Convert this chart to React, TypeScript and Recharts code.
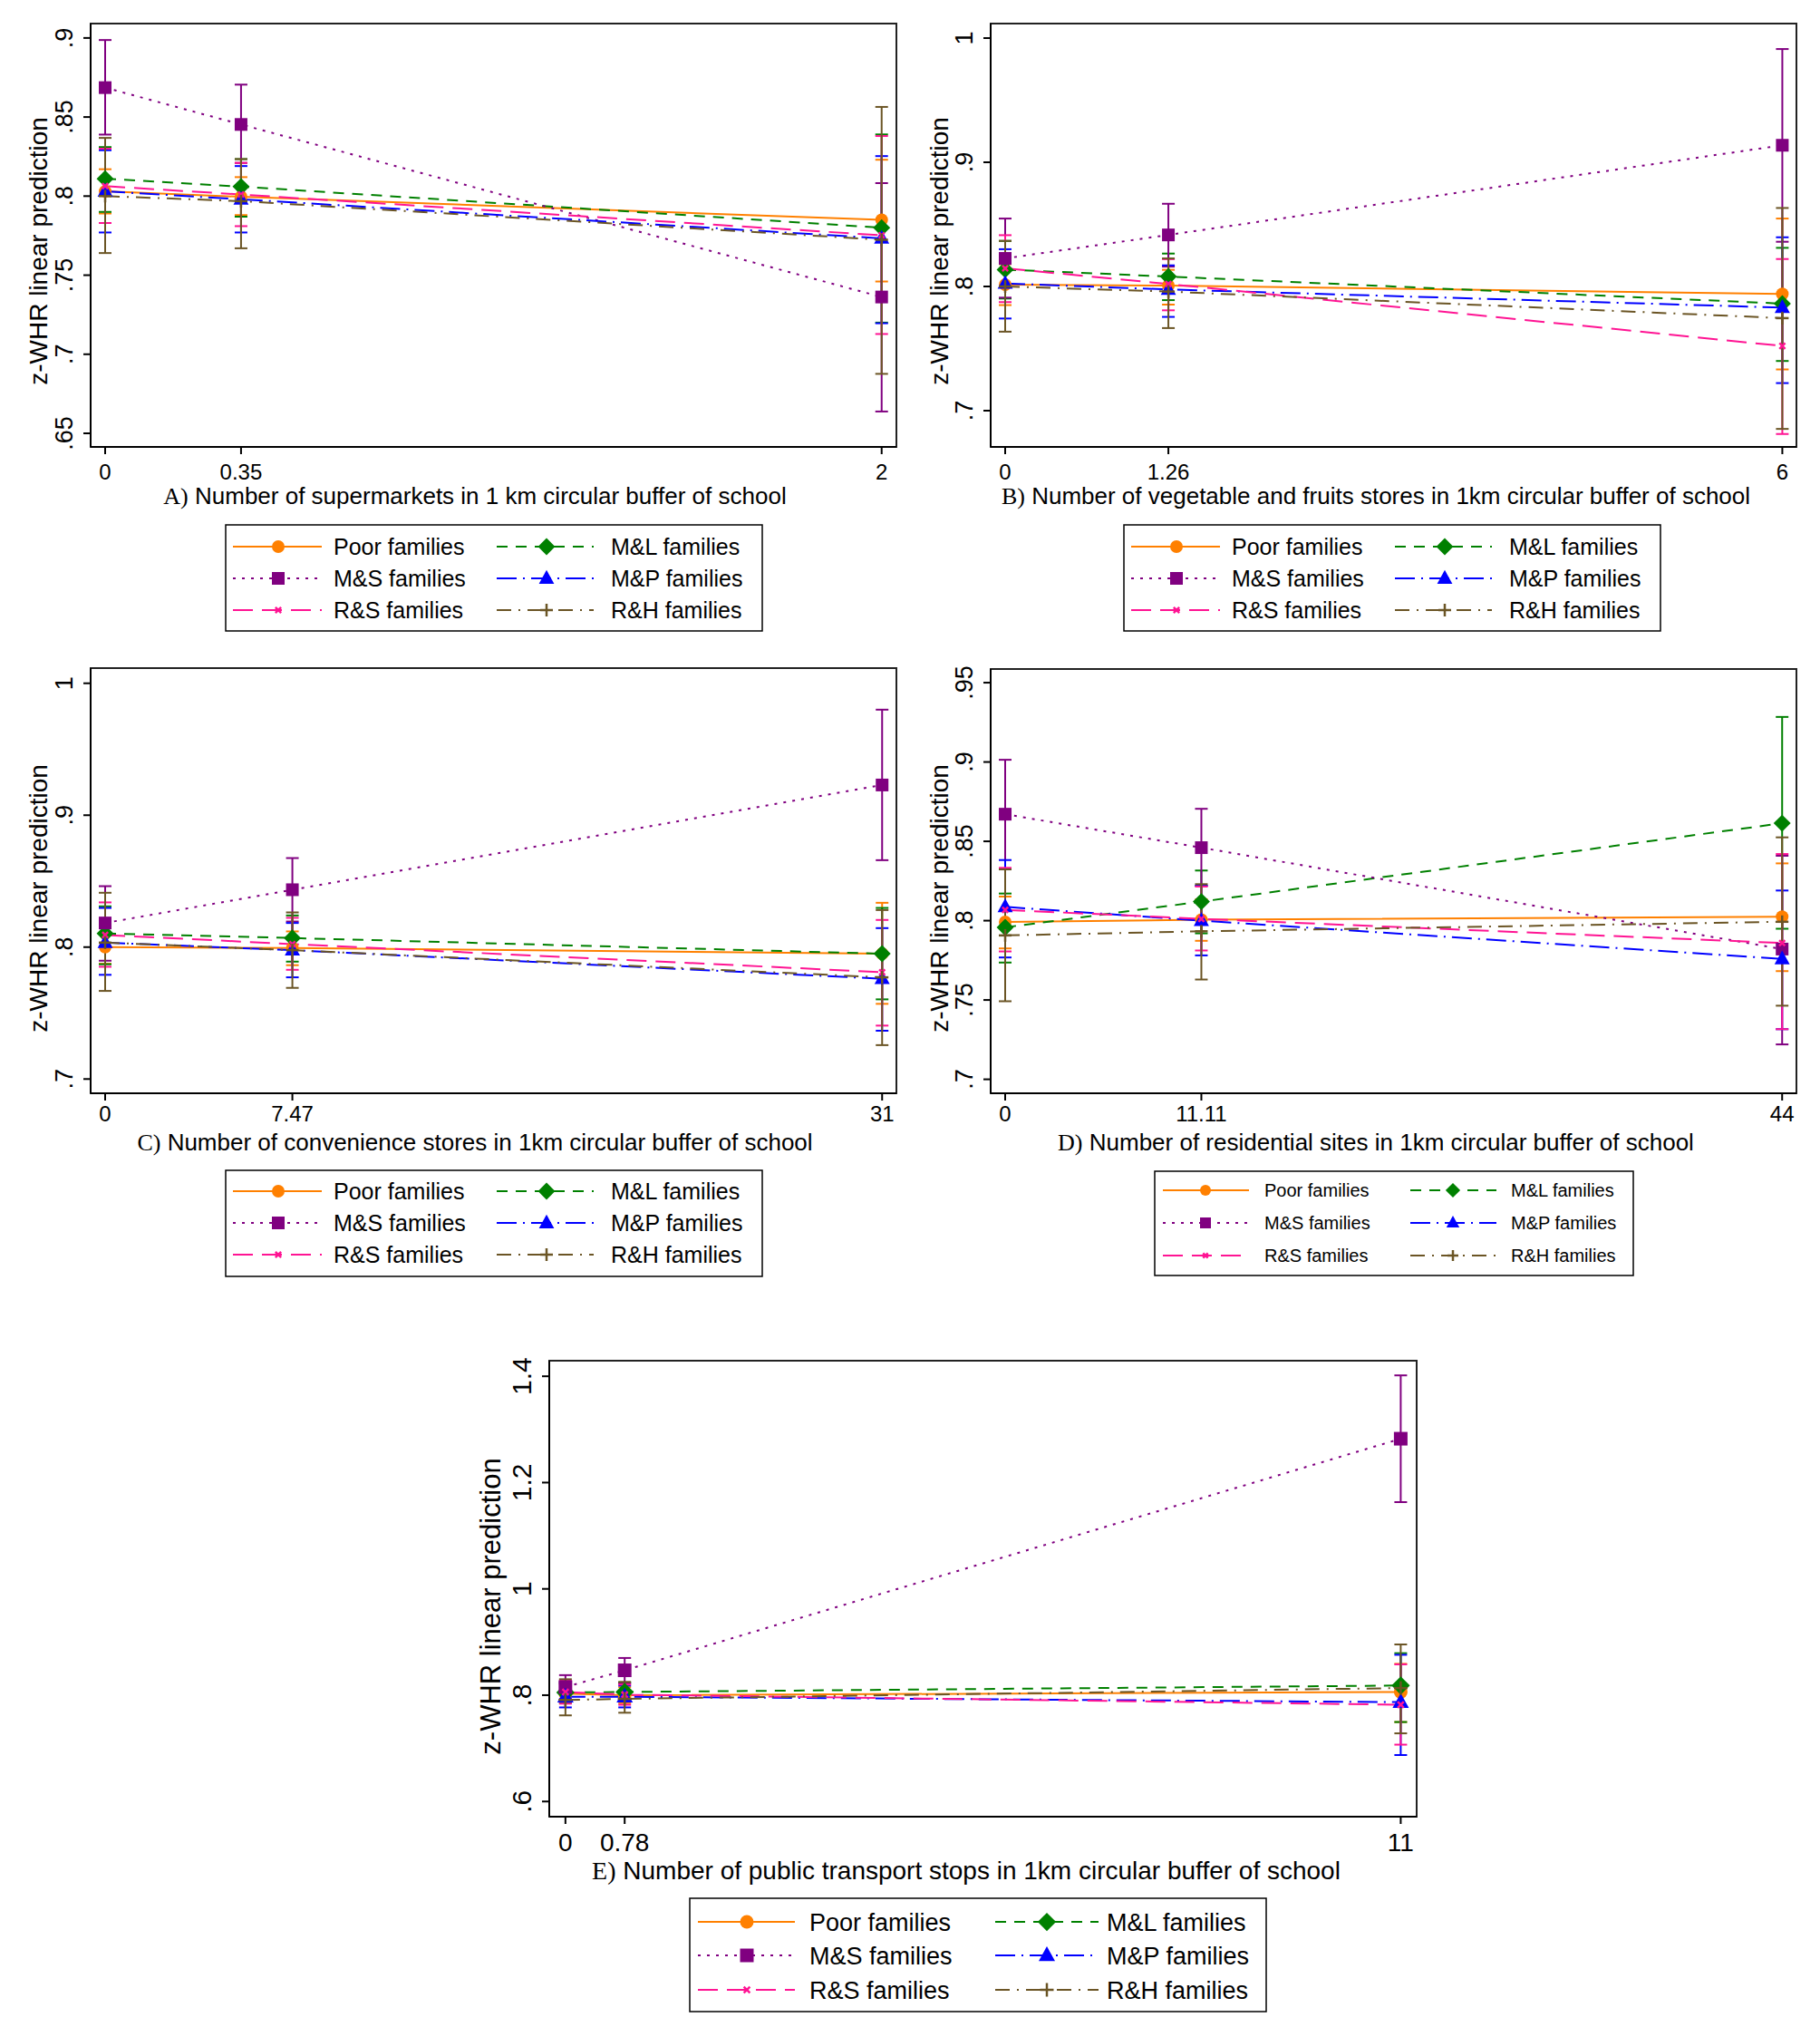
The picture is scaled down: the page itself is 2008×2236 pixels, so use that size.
import React from "react";
import {
  ComposedChart,
  Line,
  XAxis,
  YAxis,
  ErrorBar,
  ReferenceArea,
} from "recharts";

const SANS = '"Liberation Sans", Arial, Helvetica, sans-serif';
const SERIF = '"Liberation Serif", "Times New Roman", serif';

// each point: [estimate, lower 95% CI, upper 95% CI]
// A) supermarkets
const supermarketsX = [0, 0.35, 2];
const supermarketsPoor = [[0.803, 0.789, 0.817], [0.7996, 0.788, 0.812], [0.785, 0.746, 0.823]];
const supermarketsML = [[0.811, 0.79, 0.831], [0.806, 0.787, 0.8234], [0.78, 0.72, 0.839]];
const supermarketsMS = [[0.8686, 0.8389, 0.8987], [0.8453, 0.821, 0.8705], [0.7362, 0.6638, 0.8082]];
const supermarketsMP = [[0.803, 0.777, 0.829], [0.798, 0.777, 0.819], [0.7733, 0.7196, 0.8253]];
const supermarketsRS = [[0.8063, 0.783, 0.83], [0.801, 0.781, 0.821], [0.7752, 0.7128, 0.838]];
const supermarketsRH = [[0.8, 0.764, 0.8368], [0.7968, 0.767, 0.8234], [0.7724, 0.6876, 0.8564]];

// B) vegetable and fruit stores
const vegX = [0, 1.26, 6];
const vegPoor = [[0.8015, 0.785, 0.818], [0.8007, 0.7854, 0.8134], [0.794, 0.7332, 0.8547]];
const vegML = [[0.8136, 0.7903, 0.8367], [0.808, 0.789, 0.8265], [0.7862, 0.74, 0.8311]];
const vegMS = [[0.8226, 0.791, 0.8547], [0.8415, 0.816, 0.8666], [0.9137, 0.836, 0.9912]];
const vegMP = [[0.8024, 0.7742, 0.83], [0.7976, 0.7755, 0.817], [0.783, 0.7222, 0.8396]];
const vegRS = [[0.8146, 0.7874, 0.8413], [0.802, 0.7808, 0.822], [0.7521, 0.6812, 0.8221]];
const vegRH = [[0.8, 0.7636, 0.8367], [0.7959, 0.7665, 0.8226], [0.7745, 0.6853, 0.8632]];

// C) convenience stores
const convX = [0, 7.47, 31];
const convPoor = [[0.8, 0.7874, 0.82], [0.7993, 0.7863, 0.8119], [0.795, 0.757, 0.8336]];
const convML = [[0.8103, 0.787, 0.8309], [0.8069, 0.789, 0.824], [0.795, 0.7604, 0.8297]];
const convMS = [[0.8183, 0.7897, 0.8462], [0.8435, 0.8194, 0.8675], [0.9229, 0.8659, 0.98]];
const convMP = [[0.8034, 0.779, 0.8297], [0.7977, 0.7771, 0.8183], [0.776, 0.7366, 0.8144]];
const convRS = [[0.8092, 0.7851, 0.8339], [0.8023, 0.7828, 0.8222], [0.781, 0.7405, 0.8206]];
const convRH = [[0.8034, 0.7668, 0.8412], [0.7977, 0.7691, 0.8263], [0.7771, 0.7257, 0.8281]];

// D) residential sites
const resX = [0, 11.11, 44];
const resPoor = [[0.7992, 0.7825, 0.8152], [0.8006, 0.7873, 0.8135], [0.8025, 0.7682, 0.8361]];
const resML = [[0.7958, 0.7736, 0.8171], [0.812, 0.792, 0.8316], [0.8614, 0.7949, 0.9284]];
const resMS = [[0.8671, 0.8329, 0.9014], [0.846, 0.822, 0.8705], [0.7821, 0.722, 0.8409]];
const resMP = [[0.8087, 0.7768, 0.8382], [0.8, 0.7781, 0.822], [0.7759, 0.7316, 0.819]];
const resRS = [[0.8068, 0.7806, 0.8333], [0.8011, 0.7812, 0.8215], [0.7859, 0.7316, 0.842]];
const resRH = [[0.7907, 0.7492, 0.8323], [0.7933, 0.7629, 0.823], [0.7993, 0.7464, 0.8525]];

// E) public transport stops
const transportX = [0, 0.78, 11];
const transportPoor = [[0.803, 0.785, 0.821], [0.8, 0.785, 0.815], [0.806, 0.7495, 0.859]];
const transportML = [[0.805, 0.786, 0.824], [0.806, 0.788, 0.824], [0.8182, 0.7495, 0.879]];
const transportMS = [[0.8152, 0.793, 0.8377], [0.8468, 0.822, 0.87], [1.2825, 1.1632, 1.4017]];
const transportMP = [[0.797, 0.777, 0.823], [0.797, 0.777, 0.818], [0.787, 0.6874, 0.876]];
const transportRS = [[0.806, 0.784, 0.828], [0.801, 0.782, 0.82], [0.782, 0.7069, 0.858]];
const transportRH = [[0.791, 0.762, 0.83], [0.793, 0.767, 0.825], [0.8134, 0.7282, 0.8955]];

// legend order is row-wise: (Poor, M&L), (M&S, M&P), (R&S, R&H)
const SERIES = [
  { id: "poor", name: "Poor families", color: "#ff8000", dash: undefined as string | undefined, shape: "circle" },
  { id: "ml", name: "M&L families", color: "#008000", dash: "12 9", shape: "diamond" },
  { id: "ms", name: "M&S families", color: "#800080", dash: "3 7", shape: "square" },
  { id: "mp", name: "M&P families", color: "#0000ff", dash: "22 7 2 7", shape: "triangle" },
  { id: "rs", name: "R&S families", color: "#ff1493", dash: "22 10", shape: "x" },
  { id: "rh", name: "R&H families", color: "#6b5525", dash: "16 8 2 8", shape: "plus" },
];

type Row = Record<string, any>;

function buildRows(xs: number[], values: number[][][]): Row[] {
  return xs.map((x, i) => {
    const row: Row = { x };
    SERIES.forEach((s, k) => {
      const [est, lo, hi] = values[k][i];
      row[s.id] = est;
      row[`${s.id}Err`] = [est - lo, hi - est];
    });
    return row;
  });
}

function Marker({ shape, color, cx, cy, size }: { shape: string; color: string; cx: number; cy: number; size: number }) {
  const r = size;
  if (shape === "circle") return <circle cx={cx} cy={cy} r={r} fill={color} />;
  if (shape === "square") return <rect x={cx - r} y={cy - r} width={2 * r} height={2 * r} fill={color} />;
  if (shape === "diamond") {
    const d = r * 1.35;
    return <polygon points={`${cx},${cy - d} ${cx + d},${cy} ${cx},${cy + d} ${cx - d},${cy}`} fill={color} />;
  }
  if (shape === "triangle") {
    const d = r * 1.2;
    return <polygon points={`${cx},${cy - d * 1.1} ${cx + d},${cy + d * 0.7} ${cx - d},${cy + d * 0.7}`} fill={color} />;
  }
  if (shape === "x") {
    const d = r * 0.45;
    return (
      <g stroke={color} strokeWidth={2.5}>
        <line x1={cx - d} y1={cy - d} x2={cx + d} y2={cy + d} />
        <line x1={cx - d} y1={cy + d} x2={cx + d} y2={cy - d} />
      </g>
    );
  }
  const d = r;
  return (
    <g stroke={color} strokeWidth={2.5}>
      <line x1={cx - d} y1={cy} x2={cx + d} y2={cy} />
      <line x1={cx} y1={cy - d} x2={cx} y2={cy + d} />
    </g>
  );
}

const fmtY = (v: number) => {
  const s = String(Math.round(v * 1000) / 1000);
  return s.startsWith("0.") ? s.slice(1) : s;
};

interface PanelProps {
  left: number;
  top: number;
  width: number;
  height: number;
  plot: [number, number, number, number]; // left, top, right, bottom (relative)
  rows: Row[];
  xTicks: number[];
  xDomain: [number, number];
  yTicks: number[];
  yDomain: [number, number];
  letter: string;
  title: string;
  tickFont: number;
  yTickFont: number;
  xTickGap: number;
  titleFont: number;
  yTitleFont: number;
  yTitlePos: [number, number];
  titlePos: [number, number];
  markerSize: number;
}

const Panel: React.FC<PanelProps> = (p) => {
  const [pl, pt, pr, pb] = p.plot;
  return (
    <div style={{ position: "absolute", left: p.left, top: p.top }}>
      <ComposedChart
        width={p.width}
        height={p.height}
        data={p.rows}
        margin={{ top: pt, right: p.width - pr, bottom: 0, left: 0 }}
      >
        <ReferenceArea
          x1={p.xDomain[0]}
          x2={p.xDomain[1]}
          y1={p.yDomain[0]}
          y2={p.yDomain[1]}
          fill="none"
          stroke="#222"
          strokeWidth={2}
          ifOverflow="visible"
        />
        <XAxis
          dataKey="x"
          type="number"
          domain={p.xDomain}
          ticks={p.xTicks}
          interval={0}
          allowDataOverflow
          height={p.height - pb}
          tickSize={8}
          tickMargin={p.xTickGap}
          axisLine={{ stroke: "#000", strokeWidth: 2 }}
          tickLine={{ stroke: "#000", strokeWidth: 2 }}
          tick={(t: any) => (
            <text x={t.x} y={t.y} dy={p.tickFont * 0.72} textAnchor="middle" fontSize={p.tickFont} fontFamily={SANS} fill="#000">
              {String(t.payload.value)}
            </text>
          )}
          label={() => (
            <text x={p.titlePos[0]} y={p.titlePos[1]} textAnchor="middle" fontSize={p.titleFont} fontFamily={SANS} fill="#000">
              <tspan fontFamily={SERIF}>{p.letter})</tspan>
              <tspan>{"\u00a0" + p.title}</tspan>
            </text>
          )}
        />
        <YAxis
          type="number"
          domain={p.yDomain}
          ticks={p.yTicks}
          interval={0}
          allowDataOverflow
          width={pl}
          tickSize={8}
          tickMargin={12}
          axisLine={{ stroke: "#000", strokeWidth: 2 }}
          tickLine={{ stroke: "#000", strokeWidth: 2 }}
          tick={(t: any) => (
            <text
              transform={`translate(${t.x},${t.y}) rotate(-90)`}
              textAnchor="middle"
              fontSize={p.yTickFont}
              fontFamily={SANS}
              fill="#000"
            >
              {fmtY(t.payload.value)}
            </text>
          )}
          label={() => (
            <text
              transform={`translate(${p.yTitlePos[0] + p.yTitleFont * 0.33},${p.yTitlePos[1]}) rotate(-90)`}
              textAnchor="middle"
              fontSize={p.yTitleFont}
              fontFamily={SANS}
              fill="#000"
            >
              z-WHR linear prediction
            </text>
          )}
        />
        {SERIES.map((s) => (
          <Line
            key={`ci-${s.id}`}
            dataKey={s.id}
            stroke="none"
            dot={false}
            activeDot={false}
            isAnimationActive={false}
          >
            <ErrorBar dataKey={`${s.id}Err`} direction="y" width={7} stroke={s.color} strokeWidth={2} />
          </Line>
        ))}
        {SERIES.map((s) => (
          <Line
            key={`line-${s.id}`}
            type="linear"
            dataKey={s.id}
            stroke={s.color}
            strokeWidth={2}
            strokeDasharray={s.dash}
            activeDot={false}
            isAnimationActive={false}
            dot={(d: any) => (
              <Marker key={`${s.id}-${d.index}`} shape={s.shape} color={s.color} cx={d.cx} cy={d.cy} size={p.markerSize} />
            )}
          />
        ))}
      </ComposedChart>
    </div>
  );
};

interface LegendCol {
  x0: number;
  x1: number;
  m: number;
  t: number;
}

const PanelLegend: React.FC<{
  left: number;
  top: number;
  width: number;
  height: number;
  rowYs: number[];
  cols: LegendCol[];
  fontSize: number;
  markerSize: number;
}> = ({ left, top, width, height, rowYs, cols, fontSize, markerSize }) => (
  <svg style={{ position: "absolute", left, top }} width={width} height={height}>
    <rect x={1} y={1} width={width - 2} height={height - 2} fill="#fff" stroke="#000" strokeWidth={1.5} />
    {SERIES.map((s, i) => {
      const c = cols[i % 2];
      const y = rowYs[Math.floor(i / 2)];
      return (
        <g key={s.id}>
          <line x1={c.x0} x2={c.x1} y1={y} y2={y} stroke={s.color} strokeWidth={2} strokeDasharray={s.dash} />
          <Marker shape={s.shape} color={s.color} cx={c.m} cy={y} size={markerSize} />
          <text x={c.t} y={y} dy={fontSize * 0.36} fontSize={fontSize} fontFamily={SANS} fill="#000">
            {s.name}
          </text>
        </g>
      );
    })}
  </svg>
);

const bigCols: LegendCol[] = [
  { x0: 9, x1: 107, m: 59, t: 120 },
  { x0: 300, x1: 407, m: 355, t: 426 },
];

const App: React.FC = () => {
  const rowsA = buildRows(supermarketsX, [supermarketsPoor, supermarketsML, supermarketsMS, supermarketsMP, supermarketsRS, supermarketsRH]);
  const rowsB = buildRows(vegX, [vegPoor, vegML, vegMS, vegMP, vegRS, vegRH]);
  const rowsC = buildRows(convX, [convPoor, convML, convMS, convMP, convRS, convRH]);
  const rowsD = buildRows(resX, [resPoor, resML, resMS, resMP, resRS, resRH]);
  const rowsE = buildRows(transportX, [transportPoor, transportML, transportMS, transportMP, transportRS, transportRH]);

  return (
    <div style={{ position: "absolute", left: 0, top: 0, width: 2008, height: 2236, background: "#fff", overflow: "hidden" }}>
      <Panel
        left={0} top={0} width={1004} height={580}
        plot={[100, 26, 989, 493]}
        rows={rowsA}
        xTicks={supermarketsX} xDomain={[-0.0374, 2.038]}
        yTicks={[0.65, 0.7, 0.75, 0.8, 0.85, 0.9]} yDomain={[0.6414, 0.9091]}
        letter="A" title="Number of supermarkets in 1 km circular buffer of school"
        tickFont={24} yTickFont={27} xTickGap={11} titleFont={26} yTitleFont={28}
        yTitlePos={[43, 277]} titlePos={[524, 556]} markerSize={7}
      />
      <Panel
        left={1004} top={0} width={1004} height={580}
        plot={[89, 26, 978, 493]}
        rows={rowsB}
        xTicks={vegX} xDomain={[-0.112, 6.109]}
        yTicks={[0.7, 0.8, 0.9, 1]} yDomain={[0.6708, 1.0117]}
        letter="B" title="Number of vegetable and fruits stores in 1km circular buffer of school"
        tickFont={24} yTickFont={27} xTickGap={11} titleFont={26} yTitleFont={28}
        yTitlePos={[33, 277]} titlePos={[514, 556]} markerSize={7}
      />
      <Panel
        left={0} top={710} width={1004} height={580}
        plot={[100, 27, 989, 496]}
        rows={rowsC}
        xTicks={convX} xDomain={[-0.579, 31.57]}
        yTicks={[0.7, 0.8, 0.9, 1]} yDomain={[0.6892, 1.0115]}
        letter="C" title="Number of convenience stores in 1km circular buffer of school"
        tickFont={24} yTickFont={27} xTickGap={6} titleFont={26} yTitleFont={28}
        yTitlePos={[43, 281]} titlePos={[524, 559]} markerSize={7}
      />
      <Panel
        left={1004} top={710} width={1004} height={580}
        plot={[89, 28, 978, 496]}
        rows={rowsD}
        xTicks={resX} xDomain={[-0.822, 44.81]}
        yTicks={[0.7, 0.75, 0.8, 0.85, 0.9, 0.95]} yDomain={[0.6912, 0.9586]}
        letter="D" title="Number of residential sites in 1km circular buffer of school"
        tickFont={24} yTickFont={27} xTickGap={6} titleFont={26} yTitleFont={28}
        yTitlePos={[33, 281]} titlePos={[514, 559]} markerSize={7}
      />
      <Panel
        left={500} top={1480} width={1100} height={620}
        plot={[106, 21, 1063, 524]}
        rows={rowsE}
        xTicks={transportX} xDomain={[-0.213, 11.21]}
        yTicks={[0.6, 0.8, 1, 1.2, 1.4]} yDomain={[0.5714, 1.4293]}
        letter="E" title="Number of public transport stops in 1km circular buffer of school"
        tickFont={28} yTickFont={30} xTickGap={10} titleFont={28} yTitleFont={31}
        yTitlePos={[42, 292]} titlePos={[566, 593]} markerSize={7.5}
      />

      <PanelLegend left={248} top={578} width={594} height={119} rowYs={[25, 60, 95]} cols={bigCols} fontSize={25} markerSize={7} />
      <PanelLegend left={1239} top={578} width={594} height={119} rowYs={[25, 60, 95]} cols={bigCols} fontSize={25} markerSize={7} />
      <PanelLegend left={248} top={1290} width={594} height={119} rowYs={[24, 59, 94]} cols={bigCols} fontSize={25} markerSize={7} />
      <PanelLegend
        left={1273} top={1291} width={530} height={117} rowYs={[22, 58, 94]}
        cols={[
          { x0: 10, x1: 105, m: 57, t: 122 },
          { x0: 283, x1: 378, m: 330, t: 394 },
        ]}
        fontSize={20} markerSize={6}
      />
      <PanelLegend
        left={760} top={2093} width={638} height={127} rowYs={[27, 64, 102]}
        cols={[
          { x0: 10, x1: 117, m: 64, t: 133 },
          { x0: 338, x1: 452, m: 395, t: 461 },
        ]}
        fontSize={27} markerSize={7.5}
      />
    </div>
  );
};

export default App;
